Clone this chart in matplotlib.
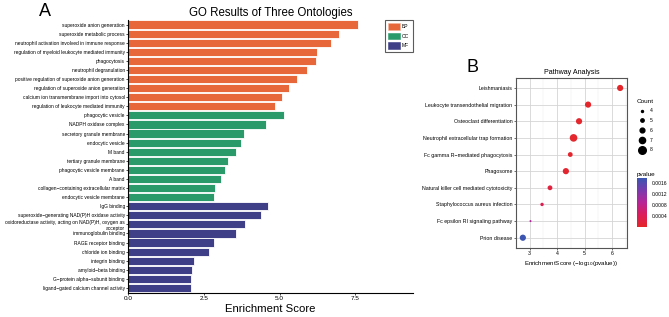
import matplotlib
matplotlib.use("Agg")
import matplotlib.pyplot as plt
import numpy as np
from matplotlib.colors import LinearSegmentedColormap
from matplotlib.lines import Line2D
from matplotlib.patches import Patch

plt.rcParams['font.family'] = ['Liberation Sans', 'DejaVu Sans']

# ----------------------
# Panel A data (GO terms)
# ----------------------
go_terms = [
    "superoxide anion generation",
    "superoxide metabolic process",
    "neutrophil activation involved in immune response",
    "regulation of myeloid leukocyte mediated immunity",
    "phagocytosis",
    "neutrophil degranulation",
    "positive regulation of superoxide anion generation",
    "regulation of superoxide anion generation",
    "calcium ion transmembrane import into cytosol",
    "regulation of leukocyte mediated immunity",
    "phagocytic vesicle",
    "NADPH oxidase complex",
    "secretory granule membrane",
    "endocytic vesicle",
    "M band",
    "tertiary granule membrane",
    "phagocytic vesicle membrane",
    "A band",
    "collagen\u2212containing extracellular matrix",
    "endocytic vesicle membrane",
    "IgG binding",
    "superoxide\u2212generating NAD(P)H oxidase activity",
    "oxidoreductase activity, acting on NAD(P)H, oxygen as\nacceptor",
    "immunoglobulin binding",
    "RAGE receptor binding",
    "chloride ion binding",
    "integrin binding",
    "amyloid\u2212beta binding",
    "G\u2212protein alpha\u2212subunit binding",
    "ligand\u2212gated calcium channel activity",
]
go_scores = [7.60, 6.96, 6.69, 6.25, 6.20, 5.90, 5.59, 5.31, 5.08, 4.86,
             5.15, 4.55, 3.81, 3.74, 3.56, 3.29, 3.20, 3.05, 2.87, 2.84,
             4.62, 4.40, 3.87, 3.56, 2.82, 2.68, 2.16, 2.11, 2.08, 2.08]
go_ontology = ["BP"] * 10 + ["CC"] * 10 + ["MF"] * 10
onto_colors = {"BP": "#E8673A", "CC": "#2B9A6B", "MF": "#3E3F87"}

# ----------------------
# Panel B data (KEGG pathways)
# ----------------------
pathways = [
    "Leishmaniasis",
    "Leukocyte transendothelial migration",
    "Osteoclast differentiation",
    "Neutrophil extracellular trap formation",
    "Fc gamma R\u2212mediated phagocytosis",
    "Phagosome",
    "Natural killer cell mediated cytotoxicity",
    "Staphylococcus aureus infection",
    "Fc epsilon RI signaling pathway",
    "Prion disease",
]
path_scores = [6.30, 5.13, 4.80, 4.60, 4.48, 4.32, 3.74, 3.45, 3.03, 2.75]
path_counts = [7, 7, 7, 8, 6, 7, 6, 5, 4, 7]
path_pvalues = [5e-7, 7.4e-6, 1.6e-5, 2.5e-5, 3.3e-5, 4.8e-5, 1.8e-4, 3.5e-4, 9.3e-4, 1.78e-3]
count_levels = [4, 5, 6, 7, 8]
pvalue_ticks = [0.0004, 0.0008, 0.0012, 0.0016]


def count_to_size(c):
    # diameter in px -> marker area in points^2 (100 dpi)
    diam = 2.0 + (np.asarray(c) - 4) * 1.4
    return (diam * 0.72) ** 2


fig = plt.figure(figsize=(6.69, 3.17), dpi=100)

# ----------------------
# Panel A
# ----------------------
ax = fig.add_axes([0.1918, 0.0757, 0.4252, 0.8613])
ypos = np.arange(len(go_terms))
ax.barh(ypos, go_scores, height=0.9,
        color=[onto_colors[o] for o in go_ontology],
        edgecolor="white", linewidth=0.6)
ax.set_yticks(ypos)
ax.set_yticklabels(go_terms, fontsize=3.5)
ax.set_ylim(len(go_terms) - 0.45, -0.5)
ax.set_xlim(0, 9.4)
ax.set_xticks([0, 2.5, 5.0, 7.5])
ax.set_xticklabels(["0.0", "2.5", "5.0", "7.5"], fontsize=4.6)
ax.tick_params(axis="y", length=1.5, width=0.5, pad=1)
ax.tick_params(axis="x", length=1.5, width=0.5, pad=1)
for s in ["top", "right"]:
    ax.spines[s].set_visible(False)
ax.spines["left"].set_linewidth(0.8)
ax.spines["bottom"].set_linewidth(0.8)
ax.set_xlabel("Enrichment Score", fontsize=8.2, labelpad=2)
ax.set_title("GO Results of Three Ontologies", fontsize=8.3, pad=3)

handles = [Patch(facecolor=onto_colors[k], edgecolor="#F4B79E" if k == "BP" else onto_colors[k],
                 linewidth=0.4, label=k) for k in ["BP", "CC", "MF"]]
leg = ax.legend(handles=handles, loc="upper right", bbox_to_anchor=(1.0, 1.0),
                borderaxespad=0, fontsize=3.6, handlelength=2.4, handleheight=1.6,
                labelspacing=0.6, borderpad=0.7, handletextpad=0.4, fancybox=False)
leg.get_frame().set_edgecolor("#333333")
leg.get_frame().set_linewidth(0.8)

fig.text(45 / 669, 1 - 11 / 317, "A", fontsize=13, ha="center", va="center")

# ----------------------
# Panel B
# ----------------------
cmap = LinearSegmentedColormap.from_list(
    "pv", ["#E4262B", "#DC1C5C", "#B72497", "#7A3AAE", "#3B55B0"])
axb = fig.add_axes([0.7713, 0.2186, 0.1655, 0.5354])
yb = np.arange(len(pathways))
axb.set_axisbelow(True)
sc = axb.scatter(path_scores, yb, s=count_to_size(path_counts), c=path_pvalues,
                 cmap=cmap, vmin=min(path_pvalues), vmax=max(path_pvalues),
                 linewidths=0, zorder=3)
axb.set_yticks(yb)
axb.set_yticklabels(pathways, fontsize=3.8)
axb.set_ylim(len(pathways) - 0.4, -0.6)
axb.set_xlim(2.56, 6.54)
axb.set_xticks([3, 4, 5, 6])
axb.set_xticklabels(["3", "4", "5", "6"], fontsize=3.8)
axb.set_xticks([2.5, 3.5, 4.5, 5.5, 6.5], minor=True)
axb.tick_params(axis="both", which="major", length=1.5, width=0.5, pad=1, color="#333333")
axb.tick_params(axis="both", which="minor", length=0)
axb.grid(True, which="major", color="#D5D5D5", linewidth=0.6)
axb.grid(True, which="minor", axis="x", color="#E8E8E8", linewidth=0.3)
for s in axb.spines.values():
    s.set_edgecolor("#555555")
    s.set_linewidth(0.8)
axb.set_xlabel("EnrichmentScore (\u2212log$_{10}$(pvalue))", fontsize=4.4, labelpad=2)
axb.set_title("Pathway Analysis", fontsize=5.1, pad=3)

fig.text(473 / 669, 1 - 68 / 317, "B", fontsize=13, ha="center", va="center")

# Count legend
size_handles = [Line2D([], [], linestyle="none", marker="o", color="black",
                       markersize=np.sqrt(count_to_size(c)), label=str(c))
                for c in count_levels]
leg2 = fig.legend(handles=size_handles, title="Count", loc="upper left",
                  bbox_to_anchor=(0.949, 0.695), frameon=False, fontsize=3.6,
                  title_fontsize=4.6, labelspacing=0.95, handletextpad=0.72,
                  handlelength=1.88, alignment="left", borderaxespad=0,
                  borderpad=0.4)

# pvalue colorbar
cax = fig.add_axes([0.9517, 0.2849, 0.0159, 0.1526])
cb = fig.colorbar(sc, cax=cax, ticks=pvalue_ticks)
cb.outline.set_visible(False)
cb.ax.set_yticklabels(["0.0004", "0.0008", "0.0012", "0.0016"])
cb.ax.tick_params(labelsize=3.6, length=2, width=0.5, color="white", pad=1.5)
cax.set_title("pvalue", fontsize=4.6, loc="left", pad=2)

fig.savefig("out.png", dpi=100)
